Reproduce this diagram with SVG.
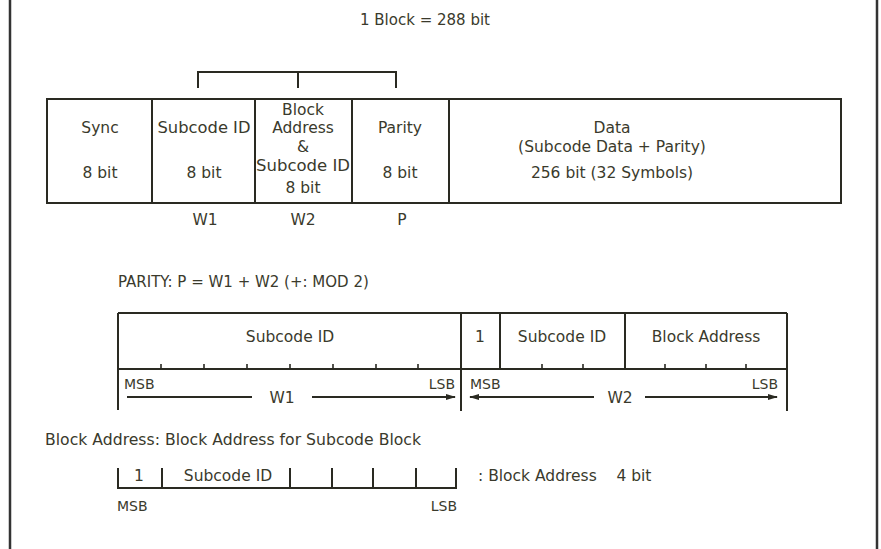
<svg xmlns="http://www.w3.org/2000/svg" width="881" height="549" viewBox="0 0 881 549">
<defs>
<style>
text{font-family:"DejaVu Sans","Liberation Sans",sans-serif;font-size:15.5px;fill:#3a3a2c}
.c{text-anchor:middle}
.e{text-anchor:end}
.s{font-size:14px}
.m{font-size:15px}
.ln{stroke:#2a2a22;stroke-width:2;fill:none}
.th{stroke:#2a2a22;stroke-width:1.6;fill:none}
.fr{stroke:#333;stroke-width:2.5;fill:none}
</style>
<marker id="ah" viewBox="0 0 10 10" refX="9" refY="5" markerWidth="5" markerHeight="5" orient="auto-start-reverse"><path d="M0,2 L10,5 L0,8 z" fill="#2a2a22"/></marker>
</defs>
<rect width="881" height="549" fill="#fff"/>
<g id="frame">
<line class="fr" x1="10" y1="0" x2="10" y2="549"/>
<line class="fr" x1="877" y1="0" x2="877" y2="549"/>
</g>
<g id="title"><text class="c m" x="425" y="25">1 Block = 288 bit</text></g>

<g id="connectors">
<path class="ln" d="M198,88 V72 H396 V88 M298,72 V88"/>
</g>

<g id="block">
<rect class="ln" x="47" y="99" width="794" height="104"/>
<line class="ln" x1="152" y1="99" x2="152" y2="203"/>
<line class="ln" x1="255" y1="99" x2="255" y2="203"/>
<line class="ln" x1="352" y1="99" x2="352" y2="203"/>
<line class="ln" x1="449" y1="99" x2="449" y2="203"/>
</g>
<g id="sync"><text class="c" x="100" y="133">Sync</text><text class="c" x="100" y="178">8 bit</text></g>
<g id="subcode-id"><text class="c" x="204" y="133" textLength="93" lengthAdjust="spacingAndGlyphs">Subcode ID</text><text class="c" x="204" y="178">8 bit</text></g>
<g id="block-address">
<text class="c" x="303" y="115">Block</text>
<text class="c" x="303" y="133">Address</text>
<text class="c" x="303" y="152">&amp;</text>
<text class="c" x="303" y="171" textLength="94" lengthAdjust="spacingAndGlyphs">Subcode ID</text>
<text class="c" x="303" y="193">8 bit</text>
</g>
<g id="parity"><text class="c" x="400" y="133">Parity</text><text class="c" x="400" y="178">8 bit</text></g>
<g id="data">
<text class="c" x="612" y="133">Data</text>
<text class="c" x="612" y="152">(Subcode Data + Parity)</text>
<text class="c" x="612" y="178">256 bit (32 Symbols)</text>
</g>
<g id="labels">
<text class="c" x="205" y="225">W1</text>
<text class="c" x="303" y="225">W2</text>
<text class="c" x="402" y="225">P</text>
</g>
<g id="parity-eq"><text x="118" y="287" class="m">PARITY: P = W1 + W2 (+: MOD 2)</text></g>

<g id="words">
<path class="ln" d="M118,313 H787 M118,369 H787 M118,313 V410 M461,313 V411 M787,313 V411 M500,313 V369 M625,313 V369"/>
<path class="th" d="M161,369 v-5 M204,369 v-5 M247,369 v-5 M290,369 v-5 M333,369 v-5 M376,369 v-5 M418,369 v-5 M542,369 v-5 M583,369 v-5 M665,369 v-5 M706,369 v-5 M746,369 v-5"/>
<text class="c" x="290" y="342">Subcode ID</text>
<text class="c" x="480" y="342">1</text>
<text class="c" x="562" y="342">Subcode ID</text>
<text class="c" x="706" y="342">Block Address</text>
<text x="124" y="389" class="s">MSB</text>
<text x="455" y="389" class="e s">LSB</text>
<text x="470" y="389" class="s">MSB</text>
<text x="778" y="389" class="e s">LSB</text>
<text class="c" x="282" y="403">W1</text>
<text class="c" x="620" y="403">W2</text>
</g>
<g id="word-arrows">
<line class="ln" x1="127" y1="397" x2="252" y2="397"/>
<line class="ln" x1="312" y1="397" x2="455" y2="397" marker-end="url(#ah)"/>
<line class="ln" x1="594" y1="397" x2="470" y2="397" marker-end="url(#ah)"/>
<line class="ln" x1="645" y1="397" x2="777" y2="397" marker-end="url(#ah)"/>
</g>

<g id="block-address-note">
<text x="45" y="445" textLength="376" lengthAdjust="spacingAndGlyphs">Block Address: Block Address for Subcode Block</text>
<path class="ln" d="M118,488 H457 M118,468 V489 M162,468 V489 M290,468 V489 M332,468 V489 M373,468 V489 M416,468 V489 M456,468 V489"/>
<text class="c" x="139" y="481">1</text>
<text class="c" x="228" y="481">Subcode ID</text>
<text x="478" y="481" xml:space="preserve">: Block Address    4 bit</text>
<text x="117" y="511" class="s">MSB</text>
<text x="457" y="511" class="e s">LSB</text>
</g>
</svg>
